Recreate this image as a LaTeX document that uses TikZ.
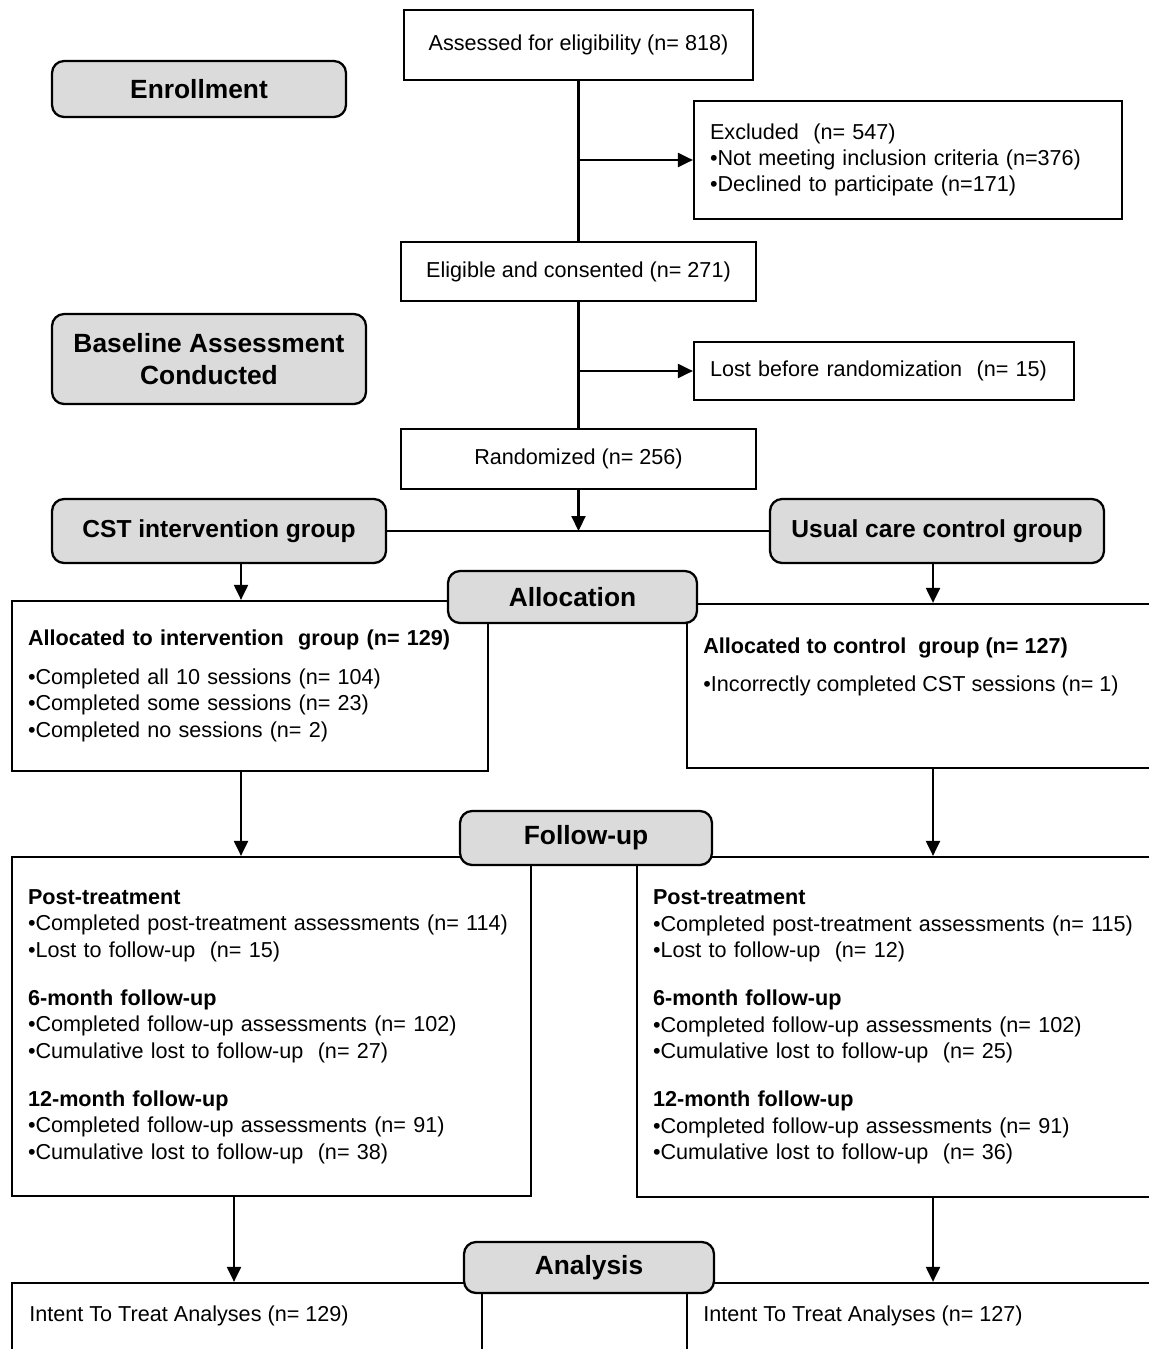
\documentclass[tikz,border=0pt]{standalone}
\usepackage{fontspec}
\setmainfont{Liberation Sans}
\usetikzlibrary{arrows.meta,calc}

\begin{document}
\begin{tikzpicture}[x=0.02cm,y=-0.02cm,
  font=\fontsize{12.3}{15}\selectfont,
  box/.style={draw=black,line width=1.3pt,fill=white,inner sep=0pt},
  listbox/.style={box,align=left,inner xsep=0.32cm},
  stage/.style={draw=black,line width=1.3pt,fill=gray!28,rounded corners=0.24cm,
    align=center,font=\fontsize{15}{18}\selectfont\bfseries},
  group/.style={stage,font=\fontsize{14}{17}\selectfont\bfseries},
  link/.style={draw=black,line width=1.2pt},
  arr/.style={link,-{Triangle[length=0.3cm,width=0.28cm]}}]
 \useasboundingbox (0,0) rectangle (1149,1349);
 \clip (0,0) rectangle (1149,1349);
 % enrollment
 \node[box,minimum width=6.98cm,minimum height=1.4cm] (assess) at (578.5,45)
   {Assessed for eligibility (n= 818)};
 \node[stage,minimum width=5.88cm,minimum height=1.12cm] (enroll) at (199,89) {Enrollment};
 \node[listbox,text width=7.92cm,minimum height=2.36cm] (excl) at (908,160)
   {Excluded\ \ (n= 547)\\ •Not meeting inclusion criteria (n=376)\\
    •Declined to participate (n=171)};
 \node[box,minimum width=7.1cm,minimum height=1.18cm] (elig) at (578.5,271.5)
   {Eligible and consented (n= 271)};
 \node[stage,minimum width=6.28cm,minimum height=1.8cm] (base) at (209,359)
   {Baseline Assessment\\ Conducted};
 \node[listbox,text width=6.96cm,minimum height=1.16cm] (lost) at (884,371)
   {Lost before randomization\ \ (n= 15)};
 \node[box,minimum width=7.1cm,minimum height=1.2cm] (rand) at (578.5,459)
   {Randomized (n= 256)};
 \node[group,minimum width=6.68cm,minimum height=1.28cm] (cst) at (219,531)
   {CST intervention group};
 \node[group,minimum width=6.68cm,minimum height=1.28cm] (usual) at (937,531)
   {Usual care control group};
 % allocation
 \node[listbox,text width=8.88cm,minimum height=3.4cm] (intv) at (250,686)
   {\textbf{Allocated to intervention\ \ group (n= 129)}\\[7pt]
    •Completed all 10 sessions (n= 104)\\ •Completed some sessions (n= 23)\\
    •Completed no sessions (n= 2)};
 \node[box,minimum width=10.26cm,minimum height=3.28cm] (ctrl) at (943.5,686) {};
 \node[anchor=north west,align=left,inner sep=0pt] (ctrltxt) at (703,637)
   {\textbf{Allocated to control\ \ group (n= 127)}\\[7pt]
    •Incorrectly completed CST sessions (n= 1)};
 \node[stage,minimum width=4.98cm,minimum height=1.04cm] (alloc) at (572.5,597) {Allocation};
 % follow-up
 \node[listbox,text width=9.74cm,minimum height=6.78cm] (fl) at (271.5,1026.5)
   {\textbf{Post-treatment}\\ •Completed post-treatment assessments (n= 114)\\
    •Lost to follow-up\ \ (n= 15)\\[12.5pt]
    \textbf{6-month follow-up}\\ •Completed follow-up assessments (n= 102)\\
    •Cumulative lost to follow-up\ \ (n= 27)\\[12.5pt]
    \textbf{12-month follow-up}\\ •Completed follow-up assessments (n= 91)\\
    •Cumulative lost to follow-up\ \ (n= 38)};
 \node[listbox,text width=10.62cm,minimum height=6.8cm] (fr) at (918.5,1027)
   {\textbf{Post-treatment}\\ •Completed post-treatment assessments (n= 115)\\
    •Lost to follow-up\ \ (n= 12)\\[12.5pt]
    \textbf{6-month follow-up}\\ •Completed follow-up assessments (n= 102)\\
    •Cumulative lost to follow-up\ \ (n= 25)\\[12.5pt]
    \textbf{12-month follow-up}\\ •Completed follow-up assessments (n= 91)\\
    •Cumulative lost to follow-up\ \ (n= 36)};
 \node[stage,minimum width=5.04cm,minimum height=1.08cm] (fup) at (586,838) {Follow-up};
 % analysis
 \node[box,minimum width=9.4cm,minimum height=2.34cm] (itl) at (247,1341.5) {};
 \node[box,minimum width=10.26cm,minimum height=2.34cm] (itr) at (943.5,1341.5) {};
 \node[anchor=west,inner sep=0pt] (itltxt) at (29,1316) {Intent To Treat Analyses (n= 129)};
 \node[anchor=west,inner sep=0pt] (itrtxt) at (703,1316) {Intent To Treat Analyses (n= 127)};
 \node[stage,minimum width=5cm,minimum height=1.02cm] (ana) at (589,1267.5) {Analysis};
 % connectors
 \coordinate (lane1) at (241,0);
 \coordinate (lane2) at (234,0);
 \coordinate (lane3) at (933,0);
 \draw[link] (assess.south) -- (elig.north);
 \draw[arr] (assess.south |- excl.west) -- (excl.west);
 \draw[link] (elig.south) -- (rand.north);
 \draw[arr] (elig.south |- lost.west) -- (lost.west);
 \draw[link] (cst.east) -- (usual.west);
 \draw[arr] (rand.south) -- (rand.south |- cst.east);
 \draw[arr] (lane1 |- cst.south) -- (lane1 |- intv.north);
 \draw[arr] (lane3 |- usual.south) -- (lane3 |- ctrl.north);
 \draw[arr] (lane1 |- intv.south) -- (lane1 |- fl.north);
 \draw[arr] (lane3 |- ctrl.south) -- (lane3 |- fr.north);
 \draw[arr] (lane2 |- fl.south) -- (lane2 |- itl.north);
 \draw[arr] (lane3 |- fr.south) -- (lane3 |- itr.north);
\end{tikzpicture}
\end{document}
